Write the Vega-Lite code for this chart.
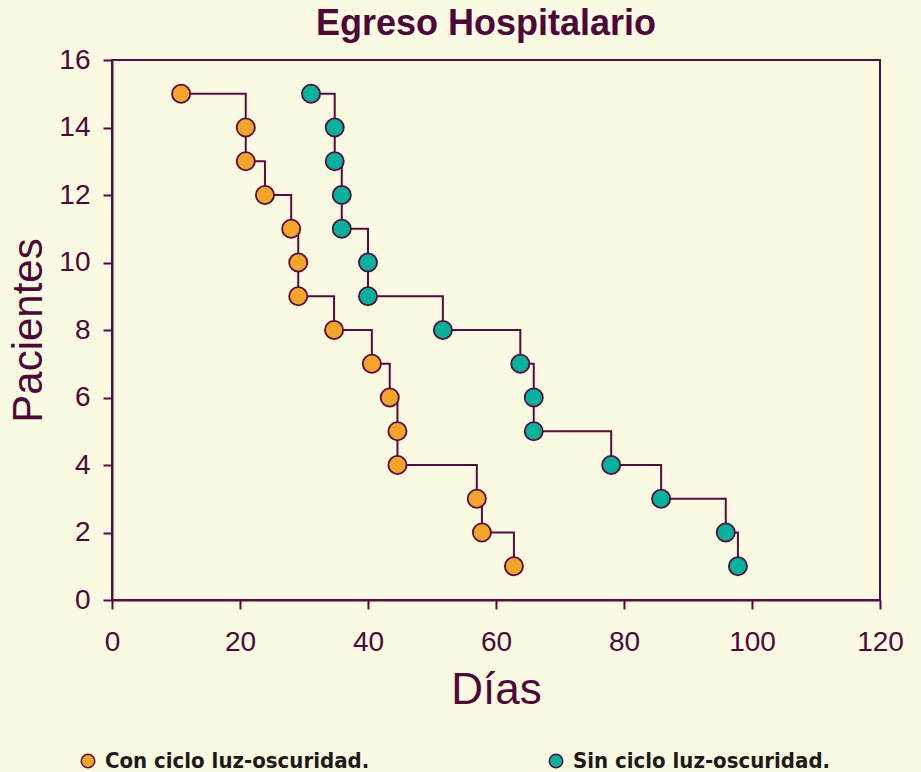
{
  "$schema": "https://vega.github.io/schema/vega-lite/v6.json",
  "width": 768,
  "height": 540,
  "autosize": {"type": "none"},
  "padding": {"left": 112, "top": 60, "right": 41, "bottom": 172},
  "background": "#faf9e1",
  "title": {
    "text": "Egreso Hospitalario",
    "fontSize": 36,
    "font": "Liberation Sans",
    "fontWeight": "bold",
    "color": "#4e0838",
    "anchor": "middle",
    "offset": 3,
    "dx": -10
  },
  "config": {
    "view": {"stroke": "#5a0a40", "strokeWidth": 2},
    "axis": {
      "grid": false,
      "labelFlush": false,
      "domainColor": "#5a0a40",
      "domainWidth": 2,
      "tickColor": "#5a0a40",
      "tickWidth": 2,
      "tickSize": 9,
      "labelFont": "Liberation Sans",
      "labelFontSize": 28,
      "labelColor": "#4e0838",
      "titleFont": "Liberation Sans",
      "titleFontWeight": "normal",
      "titleColor": "#4e0838"
    }
  },
  "data": {
    "values": [
      {"serie": "Con ciclo luz-oscuridad.", "dias": 10.8, "pacientes": 15},
      {"serie": "Con ciclo luz-oscuridad.", "dias": 20.9, "pacientes": 14},
      {"serie": "Con ciclo luz-oscuridad.", "dias": 20.9, "pacientes": 13},
      {"serie": "Con ciclo luz-oscuridad.", "dias": 23.9, "pacientes": 12},
      {"serie": "Con ciclo luz-oscuridad.", "dias": 28.0, "pacientes": 11},
      {"serie": "Con ciclo luz-oscuridad.", "dias": 29.1, "pacientes": 10},
      {"serie": "Con ciclo luz-oscuridad.", "dias": 29.1, "pacientes": 9},
      {"serie": "Con ciclo luz-oscuridad.", "dias": 34.7, "pacientes": 8},
      {"serie": "Con ciclo luz-oscuridad.", "dias": 40.6, "pacientes": 7},
      {"serie": "Con ciclo luz-oscuridad.", "dias": 43.4, "pacientes": 6},
      {"serie": "Con ciclo luz-oscuridad.", "dias": 44.6, "pacientes": 5},
      {"serie": "Con ciclo luz-oscuridad.", "dias": 44.6, "pacientes": 4},
      {"serie": "Con ciclo luz-oscuridad.", "dias": 57.0, "pacientes": 3},
      {"serie": "Con ciclo luz-oscuridad.", "dias": 57.8, "pacientes": 2},
      {"serie": "Con ciclo luz-oscuridad.", "dias": 62.8, "pacientes": 1},
      {"serie": "Sin ciclo luz-oscuridad.", "dias": 31.1, "pacientes": 15},
      {"serie": "Sin ciclo luz-oscuridad.", "dias": 34.8, "pacientes": 14},
      {"serie": "Sin ciclo luz-oscuridad.", "dias": 34.8, "pacientes": 13},
      {"serie": "Sin ciclo luz-oscuridad.", "dias": 35.9, "pacientes": 12},
      {"serie": "Sin ciclo luz-oscuridad.", "dias": 35.9, "pacientes": 11},
      {"serie": "Sin ciclo luz-oscuridad.", "dias": 40.0, "pacientes": 10},
      {"serie": "Sin ciclo luz-oscuridad.", "dias": 40.0, "pacientes": 9},
      {"serie": "Sin ciclo luz-oscuridad.", "dias": 51.7, "pacientes": 8},
      {"serie": "Sin ciclo luz-oscuridad.", "dias": 63.8, "pacientes": 7},
      {"serie": "Sin ciclo luz-oscuridad.", "dias": 65.9, "pacientes": 6},
      {"serie": "Sin ciclo luz-oscuridad.", "dias": 65.9, "pacientes": 5},
      {"serie": "Sin ciclo luz-oscuridad.", "dias": 78.0, "pacientes": 4},
      {"serie": "Sin ciclo luz-oscuridad.", "dias": 85.8, "pacientes": 3},
      {"serie": "Sin ciclo luz-oscuridad.", "dias": 95.9, "pacientes": 2},
      {"serie": "Sin ciclo luz-oscuridad.", "dias": 97.8, "pacientes": 1}
    ]
  },
  "encoding": {
    "x": {
      "field": "dias",
      "type": "quantitative",
      "scale": {"domain": [0, 120], "nice": false},
      "axis": {"values": [0, 20, 40, 60, 80, 100, 120], "title": "Días", "titleFontSize": 44, "titlePadding": 12, "labelPadding": 19}
    },
    "y": {
      "field": "pacientes",
      "type": "quantitative",
      "scale": {"domain": [0, 16], "nice": false},
      "axis": {"values": [0, 2, 4, 6, 8, 10, 12, 14, 16], "title": "Pacientes", "titleFontSize": 42, "titlePadding": 8, "labelPadding": 13}
    }
  },
  "layer": [
    {
      "mark": {"type": "line", "interpolate": "step-after", "color": "#5a0a40", "strokeWidth": 2},
      "encoding": {
        "detail": {"field": "serie"},
        "order": {"field": "pacientes", "sort": "descending"}
      }
    },
    {
      "mark": {"type": "point", "filled": true, "shape": "circle", "size": 330, "stroke": "#5a0a40", "strokeWidth": 1.8, "opacity": 1},
      "encoding": {
        "fill": {
          "field": "serie",
          "type": "nominal",
          "scale": {"domain": ["Con ciclo luz-oscuridad.", "Sin ciclo luz-oscuridad."], "range": ["#f2a526", "#00b39a"]},
          "legend": {
            "title": null,
            "orient": "none",
            "direction": "horizontal",
            "legendX": -35,
            "legendY": 690,
            "symbolSize": 180,
            "symbolStrokeColor": "#5a0a40",
            "symbolStrokeWidth": 1.5,
            "symbolOpacity": 1,
            "labelFont": "DejaVu Sans Condensed",
            "labelFontWeight": "bold",
            "labelFontSize": 22,
            "labelColor": "#1e1a1a",
            "labelLimit": 400,
            "columnPadding": 175,
            "symbolOffset": 0,
            "labelOffset": 6
          }
        }
      }
    }
  ]
}
